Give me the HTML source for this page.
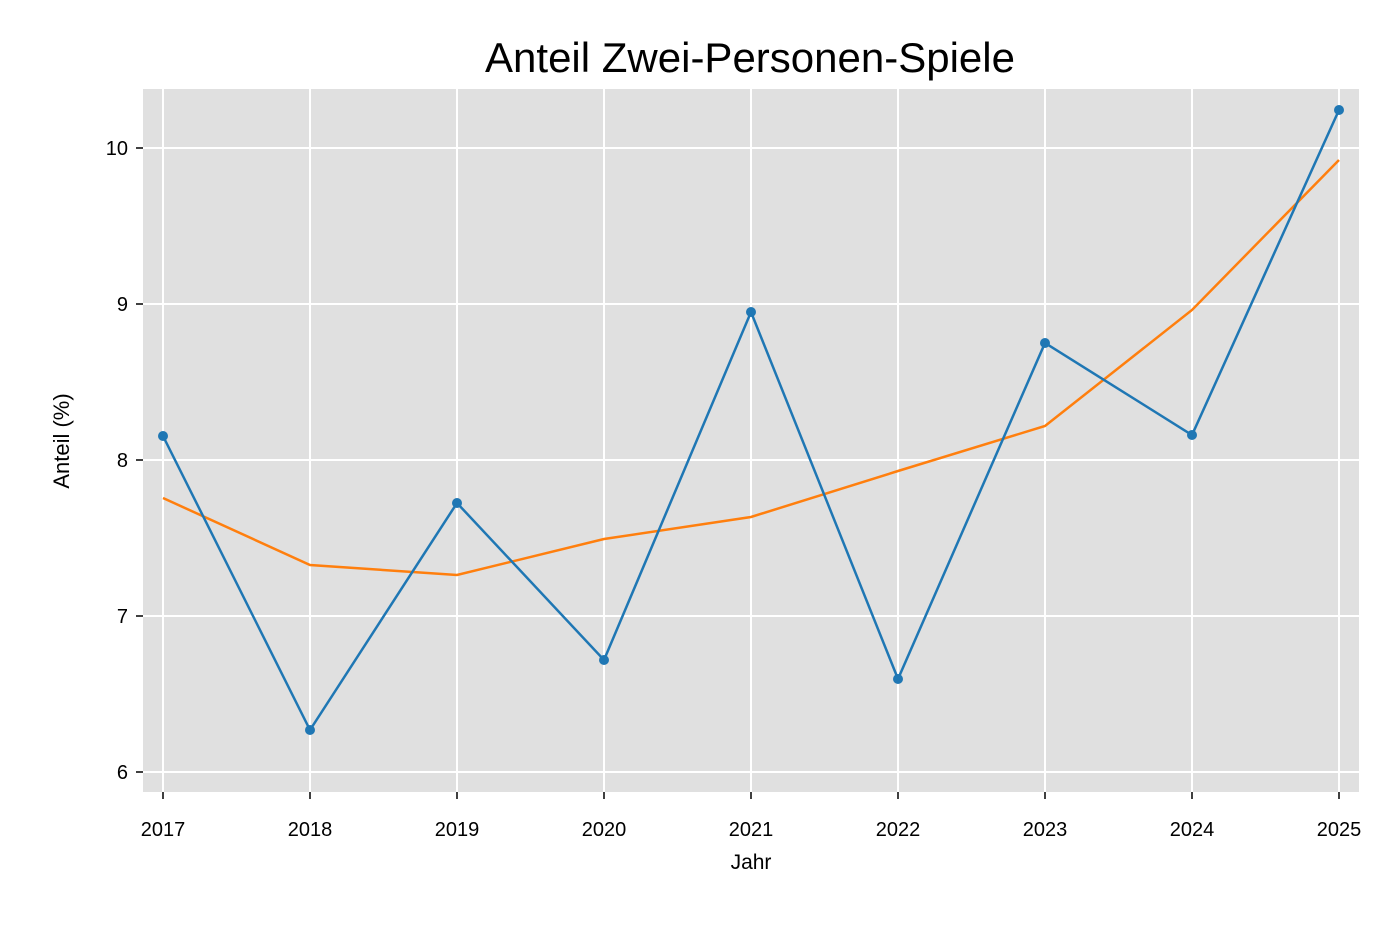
<!DOCTYPE html>
<html><head><meta charset="utf-8"><style>body{margin:0;background:#fff}svg{display:block}text{font-family:"Liberation Sans",sans-serif;fill:#000}</style></head><body>
<svg width="1392" height="928" viewBox="0 0 1392 928">
<rect x="143" y="89" width="1216" height="703" fill="#e0e0e0"/>
<g stroke="#fff" stroke-width="2">
<line x1="143" x2="1359" y1="148" y2="148"/><line x1="143" x2="1359" y1="304" y2="304"/><line x1="143" x2="1359" y1="460" y2="460"/><line x1="143" x2="1359" y1="616" y2="616"/><line x1="143" x2="1359" y1="772" y2="772"/>
<line y1="89" y2="792" x1="163" x2="163"/><line y1="89" y2="792" x1="310" x2="310"/><line y1="89" y2="792" x1="457" x2="457"/><line y1="89" y2="792" x1="604" x2="604"/><line y1="89" y2="792" x1="751" x2="751"/><line y1="89" y2="792" x1="898" x2="898"/><line y1="89" y2="792" x1="1045" x2="1045"/><line y1="89" y2="792" x1="1192" x2="1192"/><line y1="89" y2="792" x1="1339" x2="1339"/>
</g>
<g stroke="#000" stroke-width="1.5">
<line x1="136" x2="143" y1="148" y2="148"/><line x1="136" x2="143" y1="304" y2="304"/><line x1="136" x2="143" y1="460" y2="460"/><line x1="136" x2="143" y1="616" y2="616"/><line x1="136" x2="143" y1="772" y2="772"/>
<line y1="792" y2="799" x1="163" x2="163"/><line y1="792" y2="799" x1="310" x2="310"/><line y1="792" y2="799" x1="457" x2="457"/><line y1="792" y2="799" x1="604" x2="604"/><line y1="792" y2="799" x1="751" x2="751"/><line y1="792" y2="799" x1="898" x2="898"/><line y1="792" y2="799" x1="1045" x2="1045"/><line y1="792" y2="799" x1="1192" x2="1192"/><line y1="792" y2="799" x1="1339" x2="1339"/>
</g>
<g font-size="20" text-anchor="end">
<text x="128" y="155">10</text><text x="128" y="311">9</text><text x="128" y="467">8</text><text x="128" y="623">7</text><text x="128" y="779">6</text>
</g>
<g font-size="20" text-anchor="middle">
<text x="163" y="836">2017</text><text x="310" y="836">2018</text><text x="457" y="836">2019</text><text x="604" y="836">2020</text><text x="751" y="836">2021</text><text x="898" y="836">2022</text><text x="1045" y="836">2023</text><text x="1192" y="836">2024</text><text x="1339" y="836">2025</text>
<text x="751" y="869" font-size="21">Jahr</text>
<text x="750" y="72" font-size="42">Anteil Zwei-Personen-Spiele</text>
<text transform="translate(69,441) rotate(-90)" font-size="22">Anteil (%)</text>
</g>
<polyline fill="none" stroke="#ff7f0e" stroke-width="2.5" points="163,498 310,565 457,575 604,539 751,517 898,471 1045,426 1192,310 1339,160"/>
<polyline fill="none" stroke="#1f77b4" stroke-width="2.5" points="163,436 310,730 457,503 604,660 751,312 898,679 1045,343 1192,435 1339,110"/>
<g fill="#1f77b4"><circle cx="163" cy="436" r="5"/><circle cx="310" cy="730" r="5"/><circle cx="457" cy="503" r="5"/><circle cx="604" cy="660" r="5"/><circle cx="751" cy="312" r="5"/><circle cx="898" cy="679" r="5"/><circle cx="1045" cy="343" r="5"/><circle cx="1192" cy="435" r="5"/><circle cx="1339" cy="110" r="5"/></g>
</svg>
</body></html>
